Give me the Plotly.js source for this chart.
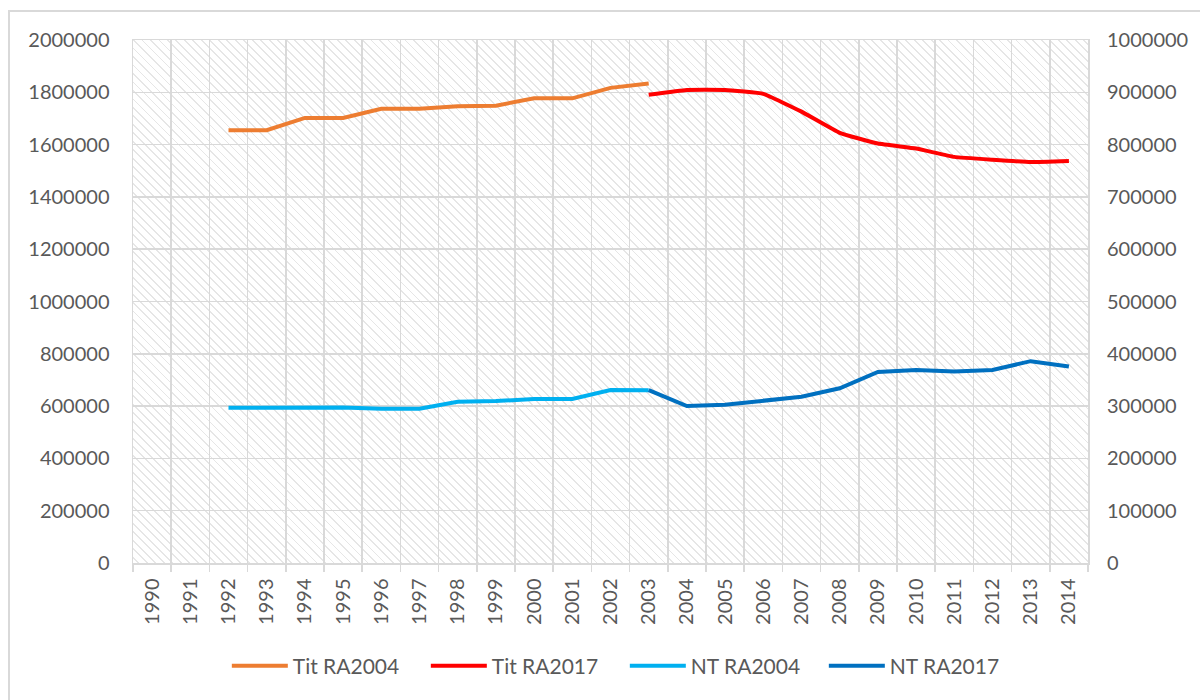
<!DOCTYPE html>
<html>
<head>
<meta charset="utf-8">
<script src="https://cdn.plot.ly/plotly-3.0.1.min.js"></script>
<style>
  html, body { margin: 0; padding: 0; background: #ffffff; }
  #wrap { position: relative; width: 1200px; height: 700px; overflow: hidden; }
  #frame { position: absolute; left: 8px; top: 10px; width: 1300px; height: 800px;
           border-left: 2px solid #d9d9d9; border-top: 2px solid #d9d9d9; }
  #hatch { position: absolute; left: 133px; top: 40px; width: 955px; height: 523px;
           background-image: repeating-linear-gradient(45deg, #ffffff 0px, #ffffff 3.5px, #e6e6e6 3.5px, #e6e6e6 4.8px, #ffffff 4.8px, #ffffff 6px); }
  #chart { position: absolute; left: 0; top: 0; width: 1200px; height: 700px; }
</style>
</head>
<body>
<div id="wrap">
  <div id="frame"></div>
  <div id="hatch"></div>
  <div id="chart"></div>
</div>
<script>
const years = ["1990","1991","1992","1993","1994","1995","1996","1997","1998","1999","2000","2001","2002","2003","2004","2005","2006","2007","2008","2009","2010","2011","2012","2013","2014"];

const titRA2004 = [null,null,1655000,1655000,1702000,1702000,1737000,1737000,1747000,1749000,1777000,1777000,1817000,1834000,null,null,null,null,null,null,null,null,null,null,null];
const titRA2017 = [null,null,null,null,null,null,null,null,null,null,null,null,null,1791000,1809000,1809000,1794000,1726000,1645000,1604000,1585000,1553000,1542000,1533000,1537000];
const ntRA2004 = [null,null,296800,296800,297400,297400,294900,294900,308300,309600,313500,313500,330800,330100,null,null,null,null,null,null,null,null,null,null,null];
const ntRA2017 = [null,null,null,null,null,null,null,null,null,null,null,null,null,330500,300000,302600,310300,317900,334000,365400,369200,366000,369200,385900,375600];

const seriesNames = ["Tit RA2004","Tit RA2017","NT RA2004","NT RA2017"];
const seriesColors = ["#ED7D31","#FF0000","#00B0F0","#0070C0"];

const font = {family: "Lato, 'Open Sans', sans-serif", size: 20, color: "#595959"};
const legendFont = {family: "Lato, 'Open Sans', sans-serif", size: 21, color: "#595959"};
const grid = "#d9d9d9";

const traces = [
  {x: years, y: titRA2004, name: seriesNames[0], type: "scatter", mode: "lines",
   line: {color: seriesColors[0], width: 4}, yaxis: "y"},
  {x: years, y: titRA2017, name: seriesNames[1], type: "scatter", mode: "lines",
   line: {color: seriesColors[1], width: 4, shape: "spline", smoothing: 0.3}, yaxis: "y"},
  {x: years, y: ntRA2004, name: seriesNames[2], type: "scatter", mode: "lines",
   line: {color: seriesColors[2], width: 4}, yaxis: "y2"},
  {x: years, y: ntRA2017, name: seriesNames[3], type: "scatter", mode: "lines",
   line: {color: seriesColors[3], width: 4}, yaxis: "y2"}
];

const layout = {
  width: 1200, height: 700,
  margin: {l: 133, r: 112, t: 40, b: 137, autoexpand: false},
  paper_bgcolor: "rgba(0,0,0,0)",
  plot_bgcolor: "rgba(0,0,0,0)",
  font: font,
  showlegend: true,
  hovermode: false,
  xaxis: {
    type: "category",
    range: [-0.5, 24.5],
    tickson: "boundaries",
    ticks: "outside", ticklen: 7, tickwidth: 1.5, tickcolor: grid,
    tickangle: -90,
    ticklabelstandoff: 6,
    showgrid: true, gridcolor: grid, gridwidth: 1.5,
    showline: true, linecolor: grid, linewidth: 1.5, mirror: true,
    tickfont: font,
    fixedrange: true
  },
  yaxis: {
    range: [0, 2000000], dtick: 200000, tick0: 0,
    tickformat: "d",
    ticks: "", ticklabelstandoff: 18,
    showgrid: true, gridcolor: grid, gridwidth: 1.5,
    zeroline: false,
    showline: true, linecolor: grid, linewidth: 1.5, mirror: true,
    tickfont: font,
    fixedrange: true
  },
  yaxis2: {
    overlaying: "y", side: "right",
    range: [0, 1000000], dtick: 100000, tick0: 0,
    tickformat: "d",
    ticks: "", ticklabelstandoff: 18,
    showgrid: false, zeroline: false, showline: false,
    tickfont: font,
    fixedrange: true
  },
  legend: {
    orientation: "h",
    x: 0.515, xanchor: "center",
    y: -0.197, yanchor: "middle",
    font: legendFont,
    itemwidth: 56,
    entrywidth: 128,
    bgcolor: "rgba(0,0,0,0)"
  }
};

Plotly.newPlot("chart", traces, layout, {displayModeBar: false, staticPlot: true});
</script>
</body>
</html>
